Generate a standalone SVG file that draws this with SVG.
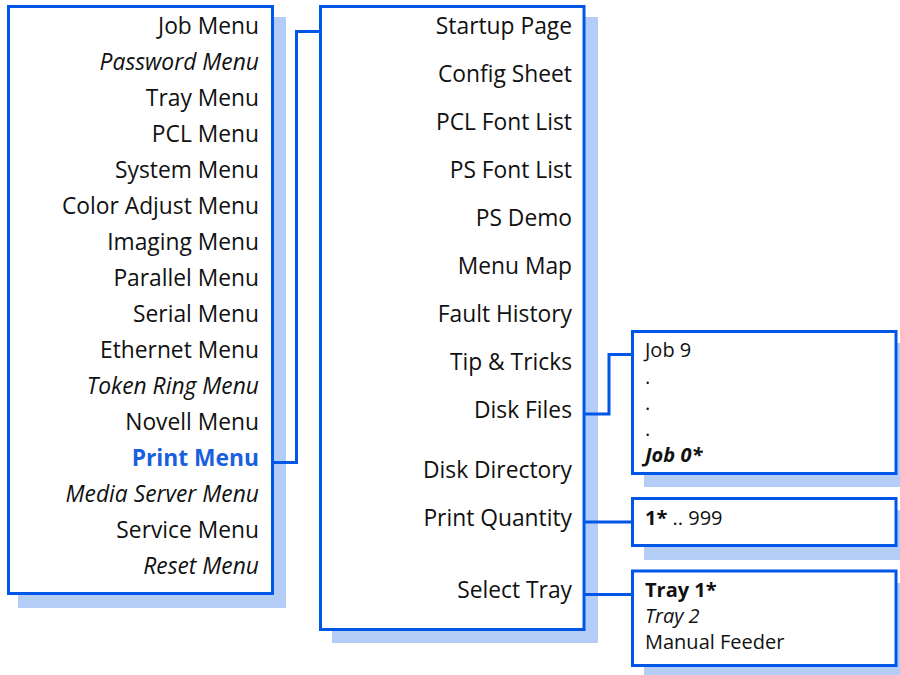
<svg xmlns="http://www.w3.org/2000/svg" width="900" height="675" viewBox="0 0 900 675">
<style>
.shadow{fill:#b3cdf7;stroke:none}
.box{fill:#ffffff;stroke:#0057e7;stroke-width:3}
.conn{fill:none;stroke:#0057e7;stroke-width:3}
text{font-family:"Open Sans","Noto Sans",sans-serif;fill:#111111}
.m{font-size:22.8px;text-anchor:end}
.s{font-size:20px}
.i{font-style:italic}
.b{font-weight:bold}
.hl{fill:#1a5fe0;font-weight:bold}
</style>
<rect width="900" height="675" fill="#ffffff"/>
<g id="main-menu">
<rect class="shadow" x="18" y="17" width="268" height="591"/>
<rect class="box" x="8.5" y="6.5" width="264" height="587"/>
<text class="m" x="259" y="34">Job Menu</text>
<text class="m i" x="259" y="70">Password Menu</text>
<text class="m" x="259" y="106">Tray Menu</text>
<text class="m" x="259" y="142">PCL Menu</text>
<text class="m" x="259" y="178">System Menu</text>
<text class="m" x="259" y="214">Color Adjust Menu</text>
<text class="m" x="259" y="250">Imaging Menu</text>
<text class="m" x="259" y="286">Parallel Menu</text>
<text class="m" x="259" y="322">Serial Menu</text>
<text class="m" x="259" y="358">Ethernet Menu</text>
<text class="m i" x="259" y="394">Token Ring Menu</text>
<text class="m" x="259" y="430">Novell Menu</text>
<text class="m hl" x="259" y="466">Print Menu</text>
<text class="m i" x="259" y="502">Media Server Menu</text>
<text class="m" x="259" y="538">Service Menu</text>
<text class="m i" x="259" y="574">Reset Menu</text>
</g>
<g id="print-menu">
<rect class="shadow" x="332" y="17" width="266" height="626"/>
<rect class="box" x="320.5" y="6.5" width="263.5" height="623"/>
<text class="m" x="572" y="34">Startup Page</text>
<text class="m" x="572" y="82">Config Sheet</text>
<text class="m" x="572" y="130">PCL Font List</text>
<text class="m" x="572" y="178">PS Font List</text>
<text class="m" x="572" y="226">PS Demo</text>
<text class="m" x="572" y="274">Menu Map</text>
<text class="m" x="572" y="322">Fault History</text>
<text class="m" x="572" y="370">Tip &amp; Tricks</text>
<text class="m" x="572" y="418">Disk Files</text>
<text class="m" x="572" y="478">Disk Directory</text>
<text class="m" x="572" y="526">Print Quantity</text>
<text class="m" x="572" y="598">Select Tray</text>
</g>
<g id="disk-files">
<rect class="shadow" x="644" y="343" width="264" height="144"/>
<rect class="box" x="632.5" y="331.5" width="263.5" height="142"/>
<text class="s" x="645" y="357">Job 9</text>
<text class="s" x="645" y="384">.</text>
<text class="s" x="645" y="410">.</text>
<text class="s" x="645" y="436">.</text>
<text class="s b i" x="645" y="462">Job 0*</text>
</g>
<g id="print-quantity">
<rect class="shadow" x="644" y="510" width="264" height="50"/>
<rect class="box" x="632.5" y="498.5" width="263.5" height="47"/>
<text class="s" x="645" y="525"><tspan class="b">1*</tspan> .. 999</text>
</g>
<g id="select-tray">
<rect class="shadow" x="644" y="583" width="264" height="95"/>
<rect class="box" x="632.5" y="571" width="263.5" height="94.5"/>
<text class="s b" x="645" y="597">Tray 1*</text>
<text class="s i" x="645" y="623">Tray 2</text>
<text class="s" x="645" y="649">Manual Feeder</text>
</g>
<g id="connectors">
<polyline class="conn" points="272,462.5 296.5,462.5 296.5,31.5 320.5,31.5"/>
<polyline class="conn" points="584,414 609,414 609,354.5 632.5,354.5"/>
<polyline class="conn" points="584,522 632.5,522"/>
<polyline class="conn" points="584,594.5 632.5,594.5"/>
</g>
</svg>
